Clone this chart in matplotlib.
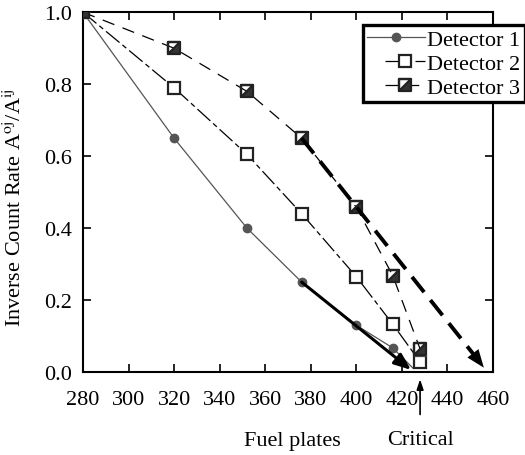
import matplotlib
matplotlib.use('Agg')
import matplotlib.pyplot as plt
from matplotlib.path import Path
from matplotlib.legend_handler import HandlerLine2D

plt.rcParams['font.family'] = ['Liberation Serif', 'DejaVu Serif']
plt.rcParams['mathtext.fontset'] = 'stix'

# fuel plate count vs inverse count rate
plates_d1 = [280, 320, 352, 376, 400, 416, 425]
rate_d1 = [1.0, 0.65, 0.40, 0.25, 0.13, 0.067, 0.01]
plates_d2 = [280, 320, 352, 376, 400, 416, 428]
rate_d2 = [1.0, 0.79, 0.605, 0.44, 0.265, 0.133, 0.028]
plates_d3 = [280, 320, 352, 376, 400, 416, 428]
rate_d3 = [1.0, 0.90, 0.78, 0.65, 0.458, 0.268, 0.064]

# extrapolation arrows (start, end)
extrap_solid = [(376, 0.25), (424, 0.006)]
extrap_dash = [(376, 0.65), (456, 0.012)]
critical_x = 428

xticks = [280, 300, 320, 340, 360, 380, 400, 420, 440, 460]
yticks = [0.0, 0.2, 0.4, 0.6, 0.8, 1.0]

FS = 16

# square with the lower-right half filled
half_sq = Path([(-1, -1), (1, -1), (1, 1), (-1, 1), (-1, -1),
                (-1, -1), (-1, 1), (1, 1), (-1, -1)],
               [Path.MOVETO, Path.LINETO, Path.LINETO, Path.LINETO, Path.CLOSEPOLY,
                Path.MOVETO, Path.LINETO, Path.LINETO, Path.CLOSEPOLY])


class ShortHandler(HandlerLine2D):
    """legend line that starts further right (short stub like the original)"""
    def get_xdata(self, legend, xdescent, ydescent, width, height, fontsize):
        x0 = -xdescent + width * 0.3
        x1 = -xdescent + width
        return [x0, x1], [(x0 + x1) / 2]


fig = plt.figure(figsize=(5.25, 4.56), dpi=100)
ax = fig.add_axes([0.158, 0.182, 0.781, 0.789])

l1, = ax.plot(plates_d1, rate_d1, '-', color='#555555', lw=0.9, marker='o', ms=6,
              mfc='#555555', mec='#555555', markevery=list(range(6)),
              label='Detector 1', zorder=3)
l2, = ax.plot(plates_d2, rate_d2, color='black', lw=0.9, dashes=(14, 3, 4, 3), marker='s',
              ms=8, mfc='white', mec='#222222', mew=1.6, label='Detector 2', zorder=3)
ax.plot(plates_d3, rate_d3, ls='none', marker='s', ms=8, mfc='white', mec='white',
        zorder=3)
l3, = ax.plot(plates_d3, rate_d3, color='black', lw=0.9, dashes=(10, 7), marker=half_sq,
              ms=8, mfc='#333333', mec='#222222', mew=1.6, label='Detector 3', zorder=4)

(x0, y0), (x1, y1) = extrap_solid
ax.annotate('', xy=(x1, y1), xytext=(x0, y0),
            arrowprops=dict(arrowstyle='-|>,head_length=1.0,head_width=0.4',
                            color='black', lw=2.2, shrinkA=0, shrinkB=0), zorder=5)
(x0, y0), (x1, y1) = extrap_dash
ax.plot([x0, x1 - 3], [y0, y1 + 0.025], color='black', lw=2.8, dashes=(5, 2.6), zorder=5)
ax.annotate('', xy=(x1, y1), xytext=(x1 - 3, y1 + 0.025),
            arrowprops=dict(arrowstyle='-|>,head_length=1.3,head_width=0.5',
                            color='black', lw=0, shrinkA=0, shrinkB=0), zorder=5)

ax.set_xlim(280, 460)
ax.set_ylim(0.0, 1.0)
ax.set_xticks(xticks)
ax.set_yticks(yticks)
ax.set_yticklabels([f'{v:.1f}' for v in yticks])
ax.tick_params(direction='in', top=True, right=True, length=6, width=1.2,
               labelsize=FS, pad=8)
ax.tick_params(axis='x', pad=13)
for sp in ax.spines.values():
    sp.set_linewidth(1.5)

ax.set_ylabel(r'Inverse Count Rate A$^{\rm oj}$/A$^{\rm ij}$', fontsize=FS)
ax.yaxis.set_label_coords(-0.14, 0.46)

ax.annotate('', xy=(critical_x, -0.02), xytext=(critical_x, -0.118),
            xycoords='data', annotation_clip=False,
            arrowprops=dict(arrowstyle='-|>,head_length=0.6,head_width=0.2',
                            color='black', lw=1.2, shrinkA=0, shrinkB=0))
fig.text(292 / 525, 1 - 442 / 456, 'Fuel plates', ha='center', va='center', fontsize=FS)
fig.text(420 / 525, 1 - 441 / 456, 'Critical', ha='center', va='center', fontsize=FS)

leg = ax.legend(handles=[l1, l2, l3], loc='upper left',
                bbox_to_anchor=(363 / 525, 1 - 26 / 456),
                bbox_transform=fig.transFigure, fontsize=FS, frameon=True,
                fancybox=False, borderpad=0.2, labelspacing=0.15,
                handlelength=2.6, handletextpad=0.1, borderaxespad=0,
                handler_map={l2: ShortHandler(), l3: ShortHandler()})
leg.get_frame().set_edgecolor('black')
leg.get_frame().set_linewidth(2.4)
leg.get_frame().set_alpha(1)

fig.savefig('out.png', dpi=100)
